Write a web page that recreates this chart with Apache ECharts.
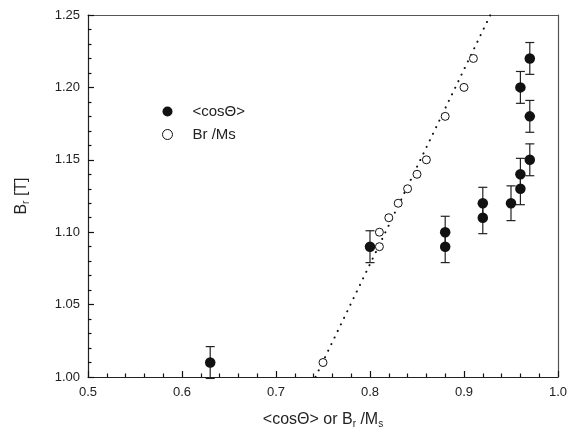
<!DOCTYPE html>
<html>
<head>
<meta charset="utf-8">
<script src="https://cdn.jsdelivr.net/npm/echarts@6/dist/echarts.min.js"></script>
<style>html,body{margin:0;padding:0;background:#fff}#c{width:578px;height:436px}</style>
</head>
<body>
<div id="c"></div>
<script>
// ---- data ----
const cosX   = [0.63, 0.80, 0.88, 0.88, 0.92, 0.92, 0.95, 0.96, 0.96, 0.96, 0.97, 0.97, 0.97];
const cosY   = [1.01, 1.09, 1.10, 1.09, 1.12, 1.11, 1.12, 1.20, 1.14, 1.13, 1.22, 1.18, 1.15];
const cosErr = [0.011, 0.011, 0.011, 0.011, 0.011, 0.011, 0.012, 0.011, 0.011, 0.011, 0.011, 0.011, 0.011];
const brmsX  = [0.75, 0.81, 0.81, 0.82, 0.83, 0.84, 0.85, 0.86, 0.88, 0.90, 0.91];
const brmsY  = [1.01, 1.09, 1.10, 1.11, 1.12, 1.13, 1.14, 1.15, 1.18, 1.20, 1.22];
const fitX   = [0.742, 0.928];
const fitY   = [1.00, 1.25];
const seriesNames = ['<cosΘ>', 'Br /Ms'];

const font = 'Liberation Sans, Arial, sans-serif';
const chart = echarts.init(document.getElementById('c'));

const cosData = cosX.map((x, i) => [x, cosY[i]]);
const errData = cosX.map((x, i) => [x, cosY[i] - cosErr[i], cosY[i] + cosErr[i]]);
const brmsData = brmsX.map((x, i) => [x, brmsY[i]]);
const fitData = fitX.map((x, i) => [x, fitY[i]]);

const subStyle = { fontSize: 10, verticalAlign: 'bottom', padding: [9, 0, 0, 0], fontFamily: font, color: '#222' };
const tickStyle = { color: '#111', width: 1.2 };

chart.setOption({
  animation: false,
  grid: { left: 88, right: 20, top: 15, bottom: 59 },
  legend: {
    orient: 'vertical', left: 157, top: 99, itemGap: 8, itemWidth: 12, itemHeight: 10,
    data: [
      { name: seriesNames[0], icon: 'circle', itemStyle: { color: '#111', borderWidth: 0, opacity: 1 } },
      { name: seriesNames[1], icon: 'circle', itemStyle: { color: '#fff', borderColor: '#111', borderWidth: 1, opacity: 1 } }
    ],
    textStyle: { fontFamily: font, fontSize: 15, color: '#222', padding: [0, 0, 0, 14] }
  },
  xAxis: [{
    type: 'value', min: 0.5, max: 1.0, interval: 0.1, position: 'bottom',
    name: '<cosΘ> or B{sub|r} /M{sub|s}', nameLocation: 'middle', nameGap: 33,
    nameTextStyle: { fontFamily: font, fontSize: 16, color: '#222', rich: { sub: subStyle } },
    axisLine: { show: true, onZero: false, lineStyle: { color: '#222', width: 1.2 } },
    axisTick: { show: true, inside: true, length: 6, lineStyle: tickStyle },
    minorTick: { show: true, splitNumber: 5, length: 3.5, lineStyle: tickStyle },
    splitLine: { show: false },
    axisLabel: { fontFamily: font, fontSize: 13, color: '#222', margin: 9, formatter: v => v.toFixed(1) }
  }, {
    type: 'value', min: 0.5, max: 1.0, interval: 0.1, position: 'top',
    axisLine: { show: true, onZero: false, lineStyle: { color: '#555', width: 1.2 } },
    axisTick: { show: false }, axisLabel: { show: false }, splitLine: { show: false }
  }],
  yAxis: [{
    type: 'value', min: 1.0, max: 1.25, interval: 0.05, position: 'left',
    name: 'B{sub|r} [T]', nameLocation: 'middle', nameGap: 57, nameRotate: 90,
    nameTextStyle: { fontFamily: font, fontSize: 16, color: '#222', rich: { sub: subStyle } },
    axisLine: { show: true, onZero: false, lineStyle: { color: '#222', width: 1.2 } },
    axisTick: { show: true, inside: true, length: 6, lineStyle: tickStyle },
    minorTick: { show: true, splitNumber: 5, length: 3.5, lineStyle: tickStyle },
    splitLine: { show: false },
    axisLabel: { fontFamily: font, fontSize: 13, color: '#222', margin: 8, formatter: v => v.toFixed(2) }
  }, {
    type: 'value', min: 1.0, max: 1.25, interval: 0.05, position: 'right',
    axisLine: { show: true, onZero: false, lineStyle: { color: '#555', width: 1.2 } },
    axisTick: { show: false }, axisLabel: { show: false }, splitLine: { show: false }
  }],
  series: [
    {
      type: 'line', name: 'fit', data: fitData, symbol: 'none', silent: true, z: 1,
      lineStyle: { color: '#111', width: 2, type: [0.1, 7.2], cap: 'round' }
    },
    {
      type: 'custom', name: 'err', data: errData, z: 2, silent: true,
      renderItem: function (params, api) {
        const x = api.value(0);
        const lo = api.coord([x, api.value(1)]);
        const hi = api.coord([x, api.value(2)]);
        const hw = 4.5;
        const st = { stroke: '#222', lineWidth: 1.2, fill: null };
        return { type: 'group', children: [
          { type: 'line', shape: { x1: lo[0], y1: lo[1], x2: hi[0], y2: hi[1] }, style: st },
          { type: 'line', shape: { x1: lo[0] - hw, y1: lo[1], x2: lo[0] + hw, y2: lo[1] }, style: st },
          { type: 'line', shape: { x1: hi[0] - hw, y1: hi[1], x2: hi[0] + hw, y2: hi[1] }, style: st }
        ]};
      }
    },
    {
      type: 'scatter', name: seriesNames[0], data: cosData, symbol: 'circle', symbolSize: 10.5, z: 3,
      itemStyle: { color: '#111', opacity: 1 }
    },
    {
      type: 'scatter', name: seriesNames[1], data: brmsData, symbol: 'circle', symbolSize: 8, z: 4,
      itemStyle: { color: '#fff', borderColor: '#111', borderWidth: 1, opacity: 1 }
    }
  ]
});
</script>
</body>
</html>
